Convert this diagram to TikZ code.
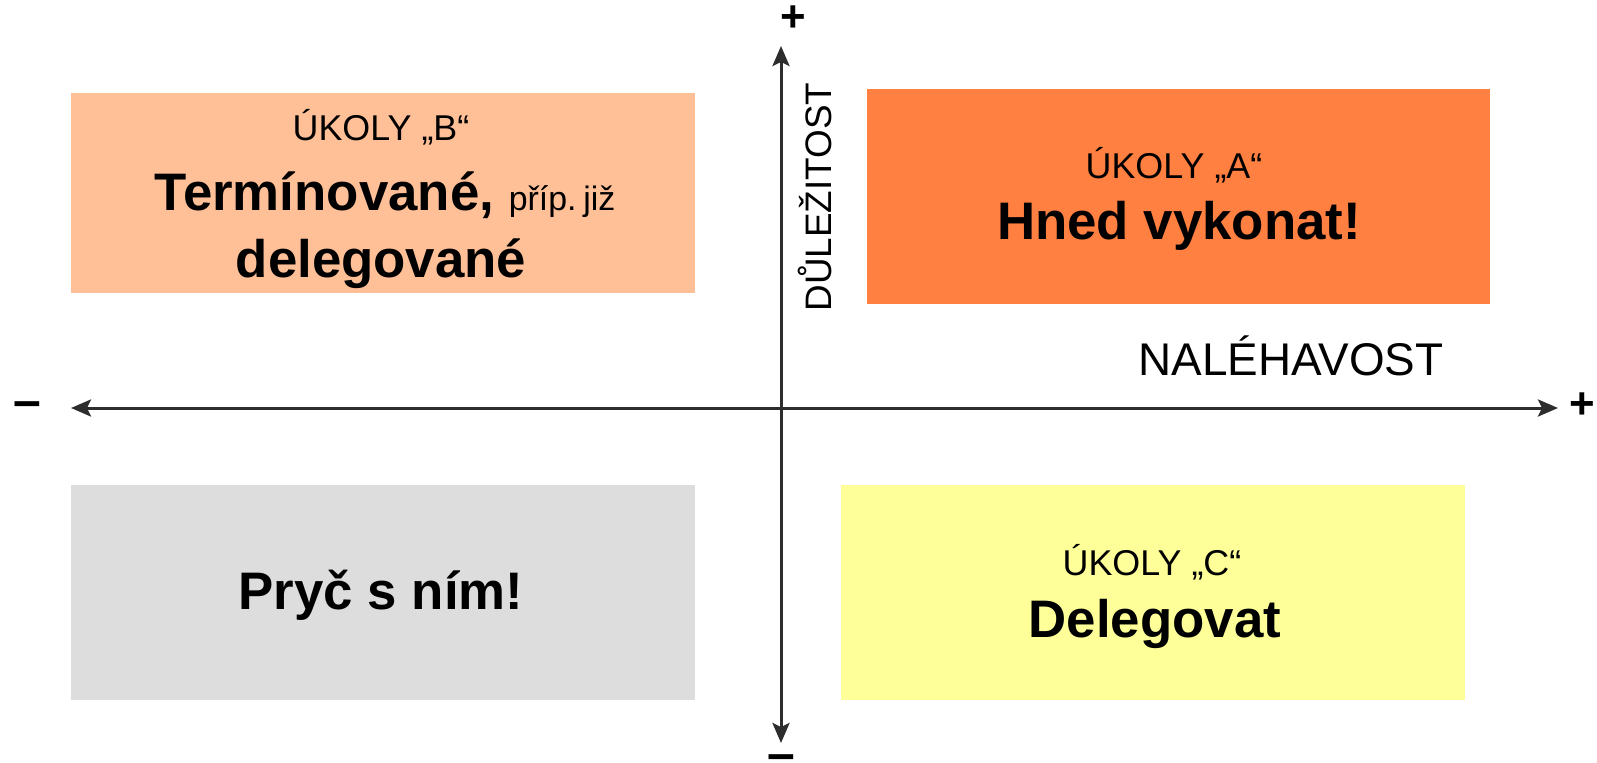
\documentclass[tikz,border=0pt]{standalone}
\usepackage{fontspec}
\setmainfont{Liberation Sans}
\usetikzlibrary{arrows.meta}
\definecolor{boxB}{RGB}{255,192,152}
\definecolor{boxA}{RGB}{255,128,64}
\definecolor{boxD}{RGB}{221,221,221}
\definecolor{boxC}{RGB}{255,255,153}
\definecolor{axiscol}{RGB}{45,45,45}
\newcommand{\fsz}[1]{\fontsize{#1}{#1}\selectfont}
\tikzset{
  quad/.style={draw=none, inner sep=0pt, outer sep=0pt},
  small/.style={inner sep=0pt, anchor=base, font=\fsz{36}},
  big/.style={inner sep=0pt, anchor=base, font=\fsz{53}\bfseries},
  sign/.style={inner sep=0pt, font=\fsz{44}\bfseries},
  axisline/.style={draw=axiscol, line width=3bp, {Stealth[length=20bp,width=17bp,inset=4bp]}-{Stealth[length=20bp,width=17bp,inset=4bp]}}
}
\begin{document}
\begin{tikzpicture}[x=1bp,y=-1bp]
\useasboundingbox (0,0) rectangle (1597,763);
% quadrants
\node[quad, fill=boxB, minimum width=624bp, minimum height=200bp] (qB) at (383,193) {};
\node[quad, fill=boxA, minimum width=623bp, minimum height=215bp] (qA) at (1178.5,196.5) {};
\node[quad, fill=boxD, minimum width=624bp, minimum height=215bp] (qD) at (383,592.5) {};
\node[quad, fill=boxC, minimum width=624bp, minimum height=215bp] (qC) at (1153,592.5) {};
% axes
\coordinate (xl) at (71,408);
\coordinate (xr) at (1558,408);
\coordinate (yt) at (781,46);
\coordinate (yb) at (781,743);
\draw[axisline] (xl) -- (xr);
\draw[axisline] (yb) -- (yt);
% signs
\node[sign] (ptop) at (793,19) {+};
\node[sign] (pright) at (1582,406) {+};
\node[sign, font=\fsz{50}\bfseries] (mleft) at (27,410) {–};
\node[sign, font=\fsz{50}\bfseries] (mbot) at (781,763) {–};
% axis labels
\node[inner sep=0pt, anchor=base, font=\fsz{46}] (nal) at (1291,375) {NALÉHAVOST};
\node[inner sep=0pt, rotate=90, font=\fsz{37}] (dul) at (815,197) {DŮLEŽITOST};
% texts B
\node[big] (tB1) at (381,140) {\fsz{36}\mdseries ÚKOLY „B“};
\node[big] (tB2) at (385,210) {Termínované, {\fsz{34}\mdseries příp.\hspace{0.2em}již}};
\node[big] (tB3) at (381,277) {delegované};
% texts A
\node[small] (tA1) at (1174,178) {ÚKOLY „A“};
\node[big] (tA2) at (1179,239) {Hned vykonat!};
% text D
\node[big] (tD1) at (381,609) {Pryč s ním!};
% texts C
\node[small] (tC1) at (1152,575) {ÚKOLY „C“};
\node[big] (tC2) at (1155,637) {Delegovat};
\end{tikzpicture}
\end{document}
